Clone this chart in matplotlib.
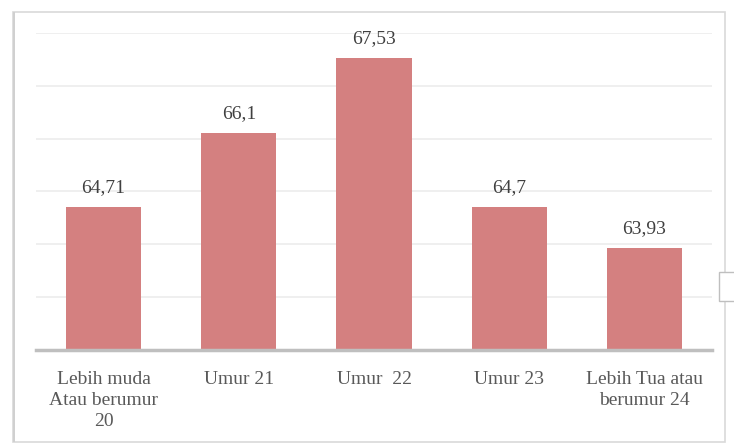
import matplotlib.pyplot as plt
from matplotlib.patches import Rectangle

plt.rcParams['font.family'] = ['Liberation Serif', 'DejaVu Serif']

categories = ["Lebih muda\nAtau berumur\n20", "Umur 21", "Umur  22", "Umur 23", "Lebih Tua atau\nberumur 24"]
values = [64.71, 66.1, 67.53, 64.7, 63.93]
value_labels = ["64,71", "66,1", "67,53", "64,7", "63,93"]

W, H = 734, 444
fig = plt.figure(figsize=(W / 100, H / 100), dpi=100)
fig.patch.set_facecolor("white")

# outer frame
fig.add_artist(Rectangle((13 / W, 1 - 442 / H), (725 - 13) / W, (442 - 12) / H,
                         transform=fig.transFigure, fill=False, edgecolor="#d9d9d9", lw=1.2))
fig.add_artist(Rectangle((13 / W, 1 - 442 / H), 1.5 / W, (442 - 12) / H,
                         transform=fig.transFigure, color="#d0d0d0", lw=0))
# small side button
fig.add_artist(Rectangle((719 / W, 1 - 301 / H), 20 / W, 29 / H,
                         transform=fig.transFigure, facecolor="white", edgecolor="#bfbfbf", lw=1))

ax = fig.add_axes([36 / W, 1 - 350 / H, (712 - 36) / W, (350 - 33) / H])
x = list(range(len(categories)))
bars = ax.bar(x, values, width=0.555, color="#d48080", zorder=3)
ax.set_xlim(-0.5, 4.5)
ax.set_ylim(62, 68)
ax.set_yticks([62, 63, 64, 65, 66, 67, 68])
ax.yaxis.grid(True, color="#ececec", lw=1.2, zorder=0)
ax.tick_params(axis="y", left=False, labelleft=False)
ax.tick_params(axis="x", bottom=False, pad=11.5)
ax.set_xticks(x)
ax.set_xticklabels(categories, fontsize=14, color="#595959", linespacing=1.32, va="top")
for s in ["top", "right", "left"]:
    ax.spines[s].set_visible(False)
ax.spines["bottom"].set_color("#bfbfbf")
ax.spines["bottom"].set_linewidth(2.5)
ax.spines["bottom"].set_zorder(4)

for xi, v, lab in zip(x, values, value_labels):
    ax.annotate(lab, (xi, v), xytext=(0, 8), textcoords="offset points",
                ha="center", va="bottom", fontsize=14, color="#404040")

fig.savefig("out.png", dpi=100)
